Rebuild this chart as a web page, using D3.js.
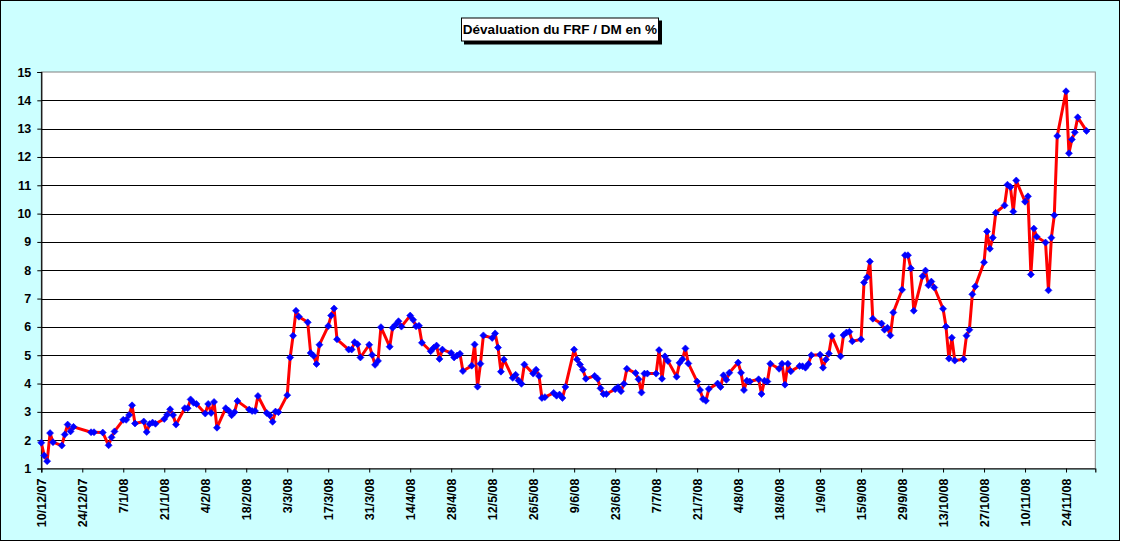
<!DOCTYPE html>
<html><head><meta charset="utf-8">
<script src="https://cdn.jsdelivr.net/npm/d3@7"></script>
<style>
html,body{margin:0;padding:0;background:#fff;}
svg{display:block;}
text{font-family:Arial,"Liberation Sans",sans-serif;font-weight:bold;}
</style></head>
<body>
<svg id="chart" width="1121" height="545"></svg>
<script>
const title = "Dévaluation du FRF / DM en %";
const dates = ["10/12/07","11/12/07","12/12/07","13/12/07","14/12/07","17/12/07","18/12/07","19/12/07","20/12/07","21/12/07","27/12/07","28/12/07","31/12/07",
"2/1/08","3/1/08","4/1/08","7/1/08","8/1/08","9/1/08","10/1/08","11/1/08","14/1/08","15/1/08","16/1/08","17/1/08","18/1/08","21/1/08","22/1/08","23/1/08","24/1/08","25/1/08","28/1/08","29/1/08","30/1/08","31/1/08",
"1/2/08","4/2/08","5/2/08","6/2/08","7/2/08","8/2/08","11/2/08","12/2/08","13/2/08","14/2/08","15/2/08","19/2/08","20/2/08","21/2/08","22/2/08","25/2/08","26/2/08","27/2/08","28/2/08","29/2/08",
"3/3/08","4/3/08","5/3/08","6/3/08","7/3/08","10/3/08","11/3/08","12/3/08","13/3/08","14/3/08","17/3/08","18/3/08","19/3/08","20/3/08","24/3/08","25/3/08","26/3/08","27/3/08","28/3/08","31/3/08",
"1/4/08","2/4/08","3/4/08","4/4/08","7/4/08","8/4/08","9/4/08","10/4/08","11/4/08","14/4/08","15/4/08","16/4/08","17/4/08","18/4/08","21/4/08","22/4/08","23/4/08","24/4/08","25/4/08","28/4/08","29/4/08","30/4/08",
"1/5/08","2/5/08","5/5/08","6/5/08","7/5/08","8/5/08","9/5/08","12/5/08","13/5/08","14/5/08","15/5/08","16/5/08","19/5/08","20/5/08","21/5/08","22/5/08","23/5/08","26/5/08","27/5/08","28/5/08","29/5/08","30/5/08",
"2/6/08","3/6/08","4/6/08","5/6/08","6/6/08","9/6/08","10/6/08","11/6/08","12/6/08","13/6/08","16/6/08","17/6/08","18/6/08","19/6/08","20/6/08","23/6/08","24/6/08","25/6/08","26/6/08","27/6/08","30/6/08",
"1/7/08","2/7/08","3/7/08","4/7/08","7/7/08","8/7/08","9/7/08","10/7/08","11/7/08","14/7/08","15/7/08","16/7/08","17/7/08","18/7/08","21/7/08","22/7/08","23/7/08","24/7/08","25/7/08","28/7/08","29/7/08","30/7/08","31/7/08",
"1/8/08","4/8/08","5/8/08","6/8/08","7/8/08","8/8/08","11/8/08","12/8/08","13/8/08","14/8/08","15/8/08","18/8/08","19/8/08","20/8/08","21/8/08","22/8/08","25/8/08","26/8/08","27/8/08","28/8/08","29/8/08",
"1/9/08","2/9/08","3/9/08","4/9/08","5/9/08","8/9/08","9/9/08","10/9/08","11/9/08","12/9/08","15/9/08","16/9/08","17/9/08","18/9/08","19/9/08","22/9/08","23/9/08","24/9/08","25/9/08","26/9/08","29/9/08","30/9/08",
"1/10/08","2/10/08","3/10/08","6/10/08","7/10/08","8/10/08","9/10/08","10/10/08","13/10/08","14/10/08","15/10/08","16/10/08","17/10/08","20/10/08","21/10/08","22/10/08","23/10/08","24/10/08","27/10/08","28/10/08","29/10/08","30/10/08","31/10/08",
"3/11/08","4/11/08","5/11/08","6/11/08","7/11/08","10/11/08","11/11/08","12/11/08","13/11/08","14/11/08","17/11/08","18/11/08","19/11/08","20/11/08","21/11/08","24/11/08","25/11/08","26/11/08","27/11/08","28/11/08",
"1/12/08"];
const values = [1.91,1.46,1.26,2.25,1.93,1.81,2.20,2.55,2.31,2.47,2.28,2.28,2.27,
1.82,2.10,2.31,2.72,2.72,2.89,3.23,2.59,2.66,2.29,2.57,2.62,2.58,2.75,2.90,3.09,2.89,2.55,3.13,3.13,3.44,3.32,
3.28,2.94,3.28,2.96,3.35,2.44,3.13,3.04,2.88,2.99,3.38,3.08,3.03,3.03,3.56,2.96,2.88,2.65,3.01,2.99,
3.59,4.92,5.69,6.57,6.36,6.16,5.08,4.98,4.69,5.37,6.03,6.40,6.65,5.56,5.20,5.20,5.46,5.39,4.92,5.37,
5.01,4.66,4.80,5.99,5.30,5.97,6.08,6.20,6.01,6.40,6.25,6.02,6.04,5.44,5.14,5.26,5.34,4.87,5.20,5.08,4.92,4.99,
5.05,4.44,4.63,5.38,3.89,4.70,5.70,5.61,5.77,5.27,4.42,4.85,4.20,4.31,4.11,3.99,4.67,4.35,4.49,4.27,3.49,3.52,
3.67,3.57,3.61,3.49,3.88,5.20,4.85,4.67,4.49,4.17,4.27,4.17,3.83,3.63,3.63,3.80,3.87,3.73,3.99,4.52,4.37,
4.15,3.68,4.35,4.35,4.35,5.18,4.17,4.96,4.80,4.24,4.73,4.86,5.24,4.71,4.07,3.77,3.45,3.39,3.81,4.00,3.88,4.29,4.13,
4.38,4.74,4.38,3.77,4.10,4.07,4.15,3.63,4.10,4.07,4.70,4.52,4.70,3.96,4.70,4.43,4.62,4.61,4.56,4.69,5.00,
5.02,4.56,4.85,5.06,5.68,4.96,5.71,5.80,5.83,5.49,5.56,7.57,7.75,8.31,6.29,6.12,5.90,5.97,5.70,6.51,7.31,8.53,
8.53,8.07,6.57,7.79,7.99,7.47,7.60,7.39,6.64,6.01,4.88,5.62,4.81,4.86,5.69,5.90,7.15,7.43,8.28,9.37,8.76,9.15,10.03,
10.29,11.02,10.94,10.07,11.17,10.42,10.61,7.85,9.47,9.18,8.98,7.29,9.15,9.94,12.74,14.32,12.13,12.62,12.87,13.40,
12.92];
const tickLabels = ["10/12/07","24/12/07","7/1/08","21/1/08","4/2/08","18/2/08","3/3/08","17/3/08","31/3/08","14/4/08","28/4/08","12/5/08","26/5/08","9/6/08","23/6/08","7/7/08","21/7/08","4/8/08","18/8/08","1/9/08","15/9/08","29/9/08","13/10/08","27/10/08","10/11/08","24/11/08"];
const yTicks = [1,2,3,4,5,6,7,8,9,10,11,12,13,14,15];
const axisStart = "10/12/07", axisEnd = "4/12/08";

const parse = d3.utcParse("%d/%m/%y");
const data = dates.map((d,i)=>({date:parse(d), value:values[i]}));

const L=41.3, R=1095.3, T=72, B=468.5;
const svg = d3.select("#chart");

svg.append("rect").attr("x",0.5).attr("y",0.5).attr("width",1119).attr("height",540)
  .attr("fill","#CCFFFF").attr("stroke","#000").attr("stroke-width",1);

const x = d3.scaleUtc().domain([parse(axisStart), parse(axisEnd)]).range([L,R]);
const y = d3.scaleLinear().domain([1,15]).range([B,T]);

svg.append("rect").attr("x",L).attr("y",T).attr("width",R-L).attr("height",B-T)
  .attr("fill","#fff").attr("stroke","#808080").attr("stroke-width",1);

svg.append("g").selectAll("line").data(yTicks.filter(v=>v>1 && v<15)).join("line")
  .attr("x1",L).attr("x2",R).attr("y1",d=>Math.round(y(d))+0.5).attr("y2",d=>Math.round(y(d))+0.5)
  .attr("stroke","#000").attr("stroke-width",1);

const yAxis = d3.axisLeft(y).tickValues(yTicks).tickSize(4).tickPadding(6).tickFormat(d3.format("d"));
const gy = svg.append("g").attr("transform",`translate(${L},0)`).call(yAxis);
gy.select(".domain").attr("stroke","#000").attr("stroke-width",1.2);
gy.selectAll(".tick line").attr("stroke","#000");
gy.selectAll("text").attr("font-size","12.5px").attr("font-weight","bold").attr("fill","#000")
  .attr("font-family","Arial, 'Liberation Sans', sans-serif");

const xAxis = d3.axisBottom(x).tickValues(tickLabels.map(parse)).tickSize(4)
  .tickFormat((d,i)=>tickLabels[i]);
const gx = svg.append("g").attr("transform",`translate(0,${B})`).call(xAxis);
gx.select(".domain").attr("stroke","#000").attr("stroke-width",1.2);
gx.selectAll(".tick line").attr("stroke","#000");
gx.selectAll("text").attr("font-size","12.5px").attr("font-weight","bold").attr("fill","#000")
  .attr("font-family","Arial, 'Liberation Sans', sans-serif")
  .attr("transform","rotate(-90)").attr("text-anchor","end")
  .attr("x",-10).attr("y",0).attr("dy","0.36em");

const line = d3.line().x(d=>x(d.date)).y(d=>y(d.value));
svg.append("path").datum(data).attr("d",line).attr("fill","none")
  .attr("stroke","#FF0000").attr("stroke-width",3).attr("stroke-linejoin","round");

svg.append("g").selectAll("path").data(data).join("path")
  .attr("d","M0,-3.5L3.5,0L0,3.5L-3.5,0Z")
  .attr("transform",d=>`translate(${x(d.date)},${y(d.value)})`)
  .attr("fill","#0000FF").attr("stroke","#0000FF").attr("stroke-width",0.6);

const tx=461, ty=17.5, tw=198, th=24;
svg.append("rect").attr("x",tx+3).attr("y",ty+3).attr("width",tw).attr("height",th).attr("fill","#000");
svg.append("rect").attr("x",tx+0.5).attr("y",ty+0.5).attr("width",tw-1).attr("height",th-1)
  .attr("fill","#fff").attr("stroke","#000").attr("stroke-width",1);
svg.append("text").attr("x",tx+tw/2).attr("y",ty+th/2).attr("dy","0.36em")
  .attr("text-anchor","middle").attr("font-size","13.5px").attr("fill","#000").text(title);
</script>
</body></html>
